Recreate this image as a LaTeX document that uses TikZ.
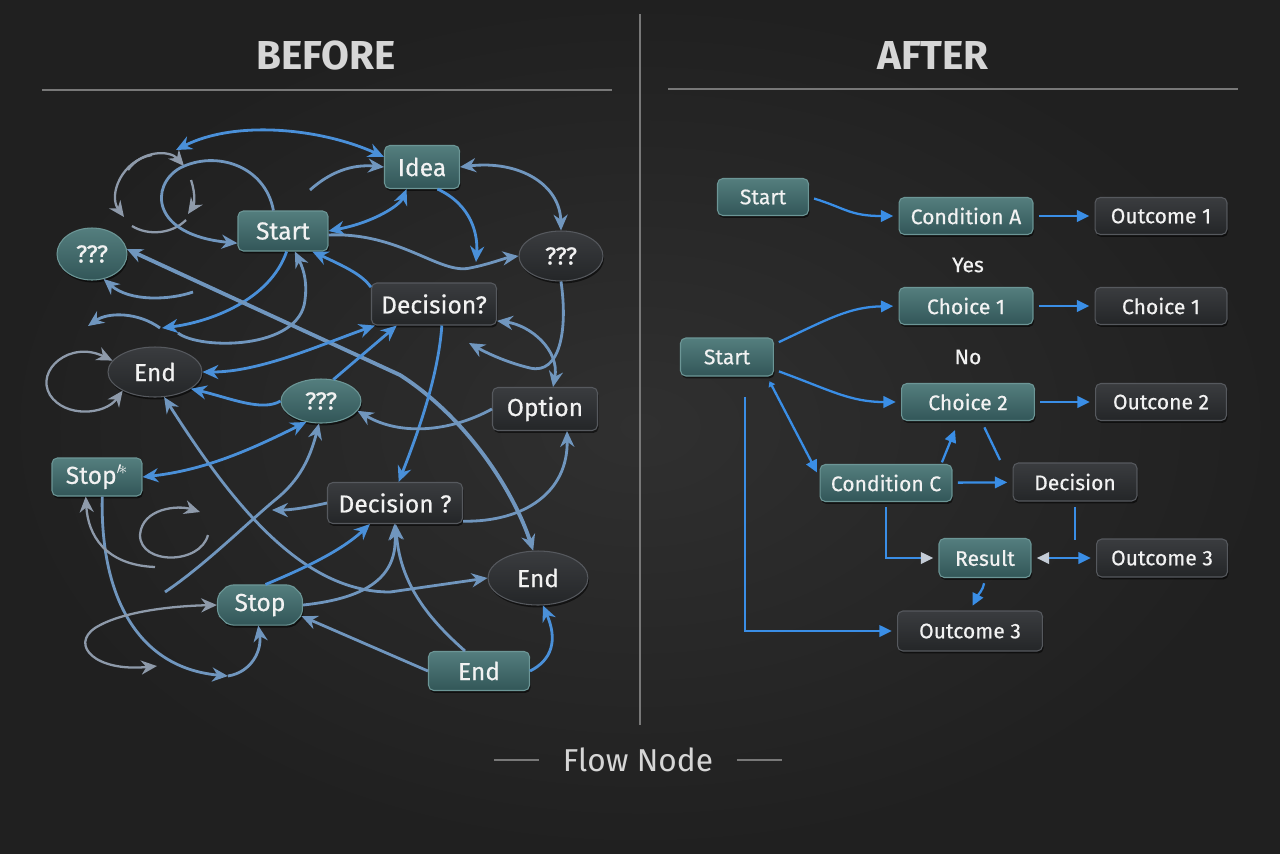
\documentclass[tikz,border=0pt]{standalone}
\usepackage{fontspec}
\setmainfont{Fira Sans}
\newfontfamily\nodefont{Fira Sans}[FakeBold=0.5]
\usetikzlibrary{positioning, arrows.meta, shapes.geometric, shapes.misc, shadows}

\definecolor{backin}{RGB}{48,48,48}
\definecolor{backout}{RGB}{32,32,32}
\definecolor{rulegray}{RGB}{120,120,120}
\definecolor{headtext}{RGB}{214,214,214}
\definecolor{nodetext}{RGB}{242,242,242}
\definecolor{tealtop}{RGB}{84,126,126}
\definecolor{tealbot}{RGB}{50,86,88}
\definecolor{tealedge}{RGB}{108,150,150}
\definecolor{darktop}{RGB}{58,60,63}
\definecolor{darkbot}{RGB}{36,38,40}
\definecolor{darkedge}{RGB}{86,89,94}
\definecolor{wireblue}{RGB}{74,144,217}
\definecolor{wiresteel}{RGB}{112,150,190}
\definecolor{wiregray}{RGB}{142,154,170}
\definecolor{flowblue}{RGB}{58,142,230}
\definecolor{tipgray}{RGB}{196,204,214}

\begin{document}
\begin{tikzpicture}[x=0.02cm, y=-0.02cm,
  >={Stealth[length=9pt,width=8pt]},
  box/.style={rounded corners=3pt, inner sep=2pt, text=nodetext, line width=0.6pt,
              drop shadow={shadow xshift=0.6pt, shadow yshift=-1.4pt, opacity=0.55, fill=black}},
  tealbox/.style={box, draw=tealedge, top color=tealtop, bottom color=tealbot},
  darkbox/.style={box, draw=darkedge, top color=darktop, bottom color=darkbot},
  tealoval/.style={tealbox, ellipse},
  darkoval/.style={darkbox, ellipse},
  messy/.style={font=\nodefont\fontsize{14}{16}\selectfont},
  neat/.style={font=\nodefont\fontsize{12}{14}\selectfont, minimum height=0.74cm},
  title/.style={font=\fontsize{23}{26}\selectfont\bfseries, text=headtext},
  divider/.style={draw=rulegray, line width=1pt},
  wire/.style={line width=1.6pt, draw=wireblue},
  wiresteel/.style={line width=1.6pt, draw=wiresteel},
  wiregray/.style={line width=1.3pt, draw=wiregray},
  flow/.style={line width=1.3pt, draw=flowblue, ->, shorten <=3pt, shorten >=3pt},
  flowline/.style={line width=1.3pt, draw=flowblue},
]
  % Backdrop and frame
  \shade[inner color=backin, outer color=backout] (0,0) rectangle (1280,853);
  \useasboundingbox (0,0) rectangle (1280,853);
  \draw[divider, line width=1.2pt] (640,14) -- (640,725);
  \node[title] (before) at (326,55) {BEFORE};
  \node[title] (after) at (933,55) {AFTER};
  \draw[divider] (42,90) -- (612,90);
  \draw[divider] (668,89) -- (1238,89);

  % Before: tangled nodes
  \node[tealbox, messy, minimum width=1.5cm, minimum height=0.86cm] (idea) at (422,167) {Idea};
  \node[tealbox, messy, minimum width=1.8cm, minimum height=0.8cm] (bstart) at (283,231) {Start};
  \node[tealoval, messy, inner sep=0pt, minimum width=1.4cm, minimum height=1.04cm] (qleft) at (92,254) {???};
  \node[darkoval, messy, inner sep=0pt, minimum width=1.68cm, minimum height=1.0cm] (qright) at (561,256) {???};
  \node[darkbox, messy, minimum width=2.5cm, minimum height=0.84cm] (dec1) at (434,304) {Decision?};
  \node[darkoval, messy, inner sep=0pt, minimum width=1.88cm, minimum height=1.0cm] (endl) at (155,372) {End};
  \node[tealoval, messy, inner sep=0pt, minimum width=1.6cm, minimum height=0.88cm] (qmid) at (321,401) {???};
  \node[darkbox, messy, minimum width=2.1cm, minimum height=0.86cm] (option) at (545,409) {Option};
  \node[tealbox, messy, minimum width=1.8cm, minimum height=0.76cm] (stopa) at (97,477) {Stop$^{\prime\!*}$};
  \node[darkbox, messy, minimum width=2.7cm, minimum height=0.82cm] (dec2) at (395,503) {Decision ?};
  \node[darkoval, messy, inner sep=0pt, minimum width=2.0cm, minimum height=1.08cm] (endr) at (538,578) {End};
  \node[tealbox, messy, chamfered rectangle, chamfered rectangle xsep=3pt, chamfered rectangle ysep=3pt,
        minimum width=1.7cm, minimum height=0.8cm] (stopb) at (260,605) {Stop};
  \node[tealbox, messy, minimum width=2.02cm, minimum height=0.78cm] (endb) at (479,671) {End};

  % Loose ends
  \coordinate (lt1) at (176,150);
  \coordinate (ls1) at (310,190);
  \coordinate (ls2) at (476,262);
  \coordinate (ls3) at (469,343);
  \coordinate (ls4) at (162,328);
  \coordinate (ls5) at (178,333);
  \coordinate (ls6) at (193,292);
  \coordinate (ls7) at (160,328);
  \coordinate (ls8) at (88,326);
  \coordinate (ls9) at (272,510);
  \coordinate (ls10) at (165,592);
  \coordinate (ls11) at (228,676);
  \coordinate (ls12) at (155,567);
  \coordinate (ls13) at (208,535);
  \coordinate (ls14) at (200,512);
  \coordinate (ls15) at (157,666);

  % Before: small loop top left
  \draw[wiregray, ->] (128,170) .. controls (142,150) and (170,150) .. (184,166);
  \draw[wiregray, ->] (191,180) .. controls (196,195) and (194,205) .. (188,214);
  \draw[wiregray, ->] (152,155) .. controls (122,160) and (108,195) .. (124,217);
  \draw[wiregray] (132,226) .. controls (148,236) and (172,234) .. (186,220);

  % Before: tangled connectors
  \draw[wire, <->] (lt1) .. controls (235,120) and (320,128) .. (idea.165);
  \draw[wiresteel, ->] (bstart.115) .. controls (265,165) and (215,150) .. (180,168)
        .. controls (150,185) and (150,235) .. (bstart.195);
  \draw[wiresteel, ->] (ls1) .. controls (330,172) and (352,164) .. (idea.west);
  \draw[wire, <->] (bstart.east) .. controls (375,222) and (400,205) .. (idea.235);
  \draw[wiresteel, ->] (bstart.-5) .. controls (400,232) and (440,275) .. (470,268)
        .. controls (490,264) and (505,258) .. (qright.west);
  \draw[wire, ->] (idea.-55) .. controls (472,205) and (478,235) .. (ls2);
  \draw[wiresteel, <->] (idea.east) .. controls (520,160) and (560,185) .. (qright.north);
  \draw[wiresteel, ->] (qright.south) .. controls (568,330) and (560,375) .. (530,368)
        .. controls (505,362) and (485,352) .. (ls3);
  \draw[wiresteel, <->] (dec1.-15) .. controls (530,325) and (560,350) .. (option.70);
  \draw[wire, ->] (dec1.165) .. controls (362,275) and (348,268) .. (bstart.-35);
  \draw[wire, ->] (bstart.-80) .. controls (270,300) and (210,322) .. (ls4);
  \draw[wiresteel, ->] (ls5) .. controls (200,350) and (300,350) .. (305,300)
        .. controls (307,285) and (305,272) .. (bstart.-60);
  \draw[wiresteel, <->, line width=2.2pt] (endr.100) .. controls (515,495) and (470,420) .. (400,375) -- (qleft.8);
  \draw[wiresteel, ->] (ls6) .. controls (170,300) and (130,302) .. (qleft.-65);
  \draw[wiresteel, ->] (ls7) .. controls (138,312) and (108,312) .. (ls8);
  \draw[wiregray, <->] (endl.165) .. controls (70,340) and (35,370) .. (50,395)
        .. controls (65,418) and (105,415) .. (endl.-150);
  \draw[wire, <->] (endl.east) .. controls (260,372) and (320,345) .. (dec1.200);
  \draw[wire, ->] (qmid.60) -- (dec1.-150);
  \draw[wire, ->] (qmid.west) .. controls (262,412) and (230,398) .. (endl.-25);
  \draw[wire, ->] (dec1.-70) .. controls (438,380) and (415,440) .. (dec2.80);
  \draw[wiresteel, ->] (option.west) .. controls (450,432) and (400,436) .. (qmid.-15);
  \draw[wiresteel, <->] (endl.-70) .. controls (230,500) and (300,592) .. (390,592) -- (endr.west);
  \draw[wire, <->] (stopa.east) .. controls (205,470) and (250,450) .. (qmid.-125);
  \draw[wiresteel, ->] (dec2.west) .. controls (305,508) and (290,510) .. (ls9);
  \draw[wiresteel, ->] (ls10) .. controls (205,565) and (245,525) .. (275,500)
        .. controls (300,480) and (310,458) .. (qmid.-95);
  \draw[wiresteel, ->] (dec2.-15) .. controls (525,522) and (568,492) .. (option.-45);
  \draw[wire, ->] (stopb.75) .. controls (300,570) and (340,552) .. (dec2.-140);
  \draw[wiresteel, ->] (stopb.east) .. controls (370,598) and (398,575) .. (dec2.-92);
  \draw[wiresteel, ->] (endb.125) .. controls (430,620) and (400,585) .. (dec2.-88);
  \draw[wiresteel, ->] (endb.west) -- (stopb.-15);
  \draw[wire, ->] (endb.east) .. controls (552,660) and (558,640) .. (endr.-80);
  \draw[wiresteel, ->] (stopa.-75) .. controls (100,600) and (140,668) .. (ls11);
  \draw[wiresteel, ->] (ls11) .. controls (252,672) and (262,650) .. (stopb.-95);
  \draw[wiregray, ->] (ls12) .. controls (105,565) and (88,535) .. (stopa.-120);
  \draw[wiregray, ->] (ls13) .. controls (200,565) and (140,565) .. (140,535)
        .. controls (142,508) and (178,505) .. (ls14);
  \draw[wiregray, <->] (stopb.west) .. controls (170,606) and (120,612) .. (95,628)
        .. controls (70,645) and (95,672) .. (ls15);

  % After: clean flow
  \begin{scope}[>={Triangle[length=7pt,width=6.5pt]}]
    \node[tealbox, neat, minimum width=1.82cm] (rstart1) at (763,197) {Start};
    \node[tealbox, neat, minimum width=2.68cm] (conda) at (966,216) {Condition A};
    \node[darkbox, neat, minimum width=2.64cm] (out1) at (1161,216) {Outcome 1};
    \node[font=\nodefont\fontsize{12}{14}\selectfont, text=nodetext] (yes) at (968,265) {Yes};
    \node[tealbox, neat, minimum width=2.68cm] (choice1a) at (966,306) {Choice 1};
    \node[darkbox, neat, minimum width=2.64cm] (choice1b) at (1161,306) {Choice 1};
    \node[font=\nodefont\fontsize{12}{14}\selectfont, text=nodetext] (no) at (968,357) {No};
    \node[tealbox, neat, minimum width=1.86cm, minimum height=0.76cm] (rstart2) at (727,357) {Start};
    \node[tealbox, neat, minimum width=2.66cm] (choice2a) at (968,402) {Choice 2};
    \node[darkbox, neat, minimum width=2.62cm] (out2) at (1161,402) {Outcone 2};
    \node[tealbox, neat, minimum width=2.64cm] (condc) at (886,483) {Condition C};
    \node[darkbox, neat, minimum width=2.48cm, minimum height=0.76cm] (decn) at (1075,482) {Decision};
    \node[tealbox, neat, minimum width=1.84cm, minimum height=0.78cm] (result) at (985,558) {Result};
    \node[darkbox, neat, minimum width=2.62cm, minimum height=0.76cm] (out3a) at (1162,558) {Outcome 3};
    \node[darkbox, neat, minimum width=2.9cm, minimum height=0.8cm] (out3b) at (970,631) {Outcome 3};

    \coordinate (c2tip) at (955,430);
    \coordinate (c2tail) at (1000,460);
    \coordinate (dectail) at (1075,540);

    \draw[flow] (rstart1.east) .. controls (845,208) and (850,216) .. (conda.west);
    \draw[flow] (conda) -- (out1);
    \draw[flow] (rstart2.15) .. controls (830,318) and (850,307) .. (choice1a.west);
    \draw[flow] (choice1a) -- (choice1b);
    \draw[flow] (rstart2.-15) .. controls (830,390) and (850,402) .. (choice2a.west);
    \draw[flow] (choice2a) -- (out2);
    \draw[flow] ([xshift=0.36cm, yshift=-0.3cm]rstart2.south) |- (out3b.west);
    \draw[flow, {Triangle[length=3pt,width=4pt]}-{Triangle[length=7pt,width=6.5pt]}] (rstart2.-26) -- (condc.175);
    \draw[flow] (condc) -- (decn);
    \draw[flow, shorten <=1pt, shorten >=0pt] (condc.19) -- (c2tip);
    \draw[flowline, shorten <=4pt] (choice2a.-55) -- (c2tail);
    \draw[flow, -{Triangle[length=7pt,width=6.5pt,color=tipgray]}] (condc.south) |- (result.west);
    \draw[flowline, shorten <=3pt] (decn.south) -- (dectail);
    \draw[flow, {Triangle[length=7pt,width=6.5pt,color=tipgray]}-{Triangle[length=7pt,width=6.5pt]}] (result) -- (out3a);
    \draw[flow] (result.south) .. controls (983,590) and (978,595) .. (out3b.north);
  \end{scope}

  % Caption
  \node[font=\fontsize{18}{20}\selectfont, text=headtext] (caption) at (638,760) {Flow Node};
  \draw[divider] ([xshift=-10pt]caption.west) -- ++(-45,0);
  \draw[divider] ([xshift=10pt]caption.east) -- ++(45,0);
\end{tikzpicture}
\end{document}
